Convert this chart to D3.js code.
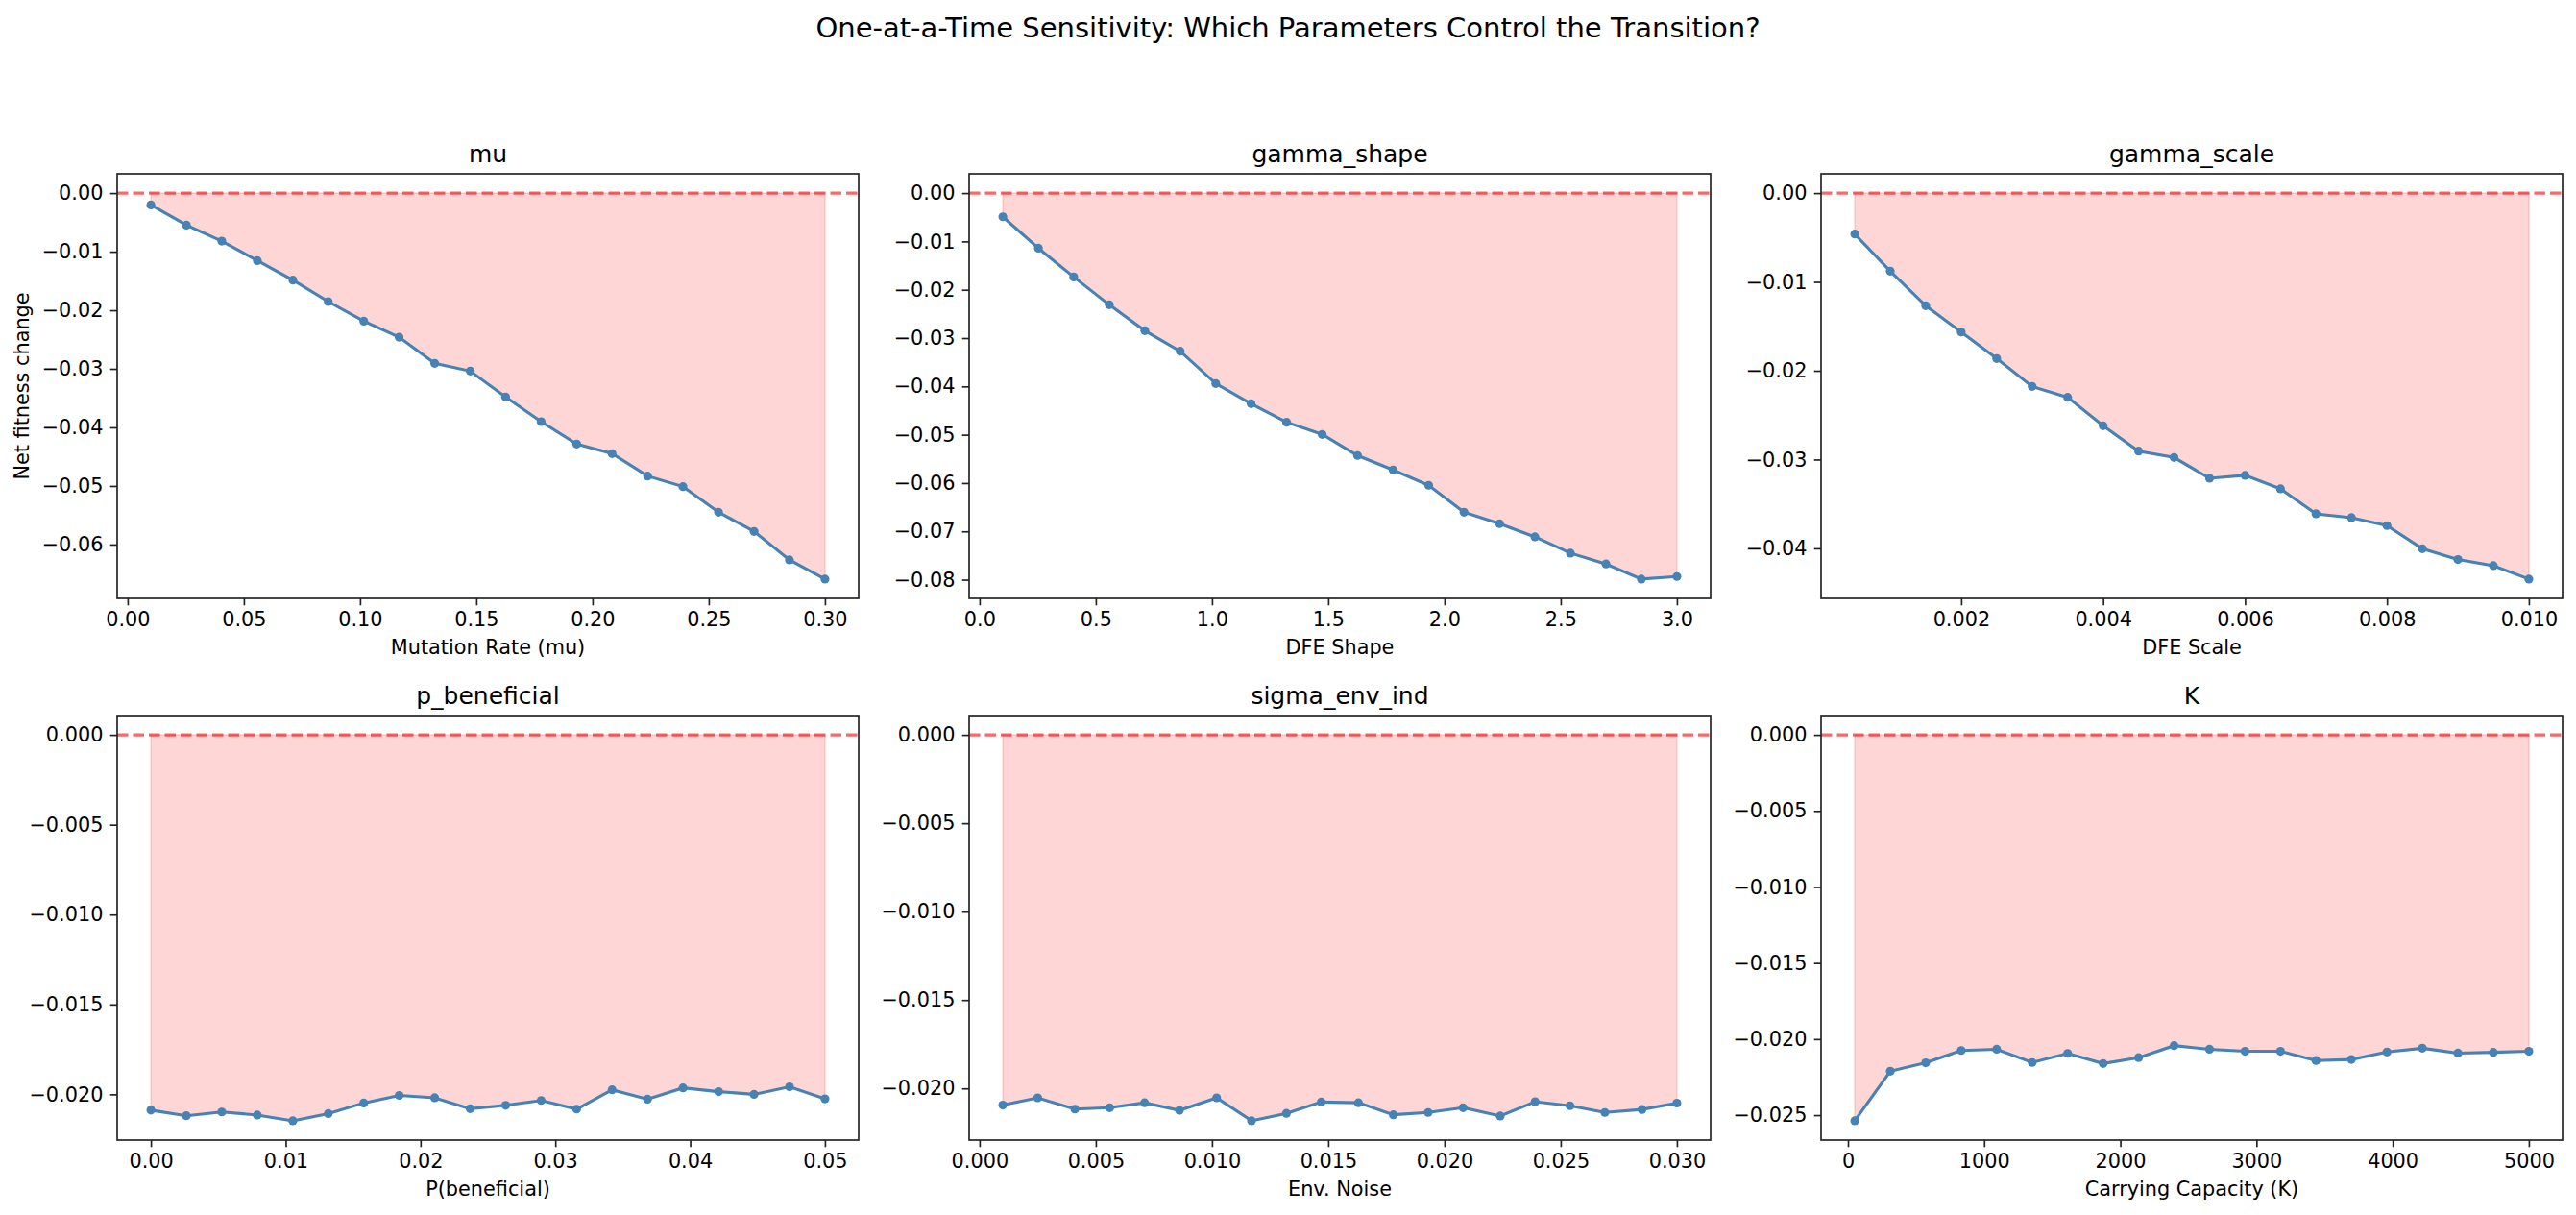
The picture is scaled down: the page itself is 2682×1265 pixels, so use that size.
<!DOCTYPE html>
<html lang="en">
<head>
<meta charset="UTF-8">
<title>One-at-a-Time Sensitivity</title>
<script src="https://cdnjs.cloudflare.com/ajax/libs/d3/7.8.5/d3.min.js"></script>
<style>
  body { margin: 0; background: #fff; }
  svg { display: block; font-family: "DejaVu Sans", sans-serif; }
</style>
</head>
<body>
<div id="chart"></div>
<script>
// ---- data ----
const panelTitles = ['mu', 'gamma_shape', 'gamma_scale', 'p_beneficial', 'sigma_env_ind', 'K'];
const xLabels = ['Mutation Rate (mu)', 'DFE Shape', 'DFE Scale', 'P(beneficial)', 'Env. Noise', 'Carrying Capacity (K)'];

const muX = [0.0100, 0.0253, 0.0405, 0.0558, 0.0711, 0.0863, 0.1016, 0.1168, 0.1321, 0.1474,
             0.1626, 0.1779, 0.1932, 0.2084, 0.2237, 0.2389, 0.2542, 0.2695, 0.2847, 0.3000];
const muY = [-0.00202, -0.00546, -0.0082, -0.01153, -0.01486, -0.01852, -0.02186, -0.02459, -0.02907, -0.03038,
             -0.03481, -0.03902, -0.04284, -0.04448, -0.04831, -0.05011, -0.05448, -0.05776, -0.06262, -0.0659];

const shapeX = [0.100, 0.253, 0.405, 0.558, 0.711, 0.863, 1.016, 1.168, 1.321, 1.474,
                1.626, 1.779, 1.932, 2.084, 2.237, 2.389, 2.542, 2.695, 2.847, 3.000];
const shapeY = [-0.0049, -0.0114, -0.01735, -0.02311, -0.02848, -0.03272, -0.0394, -0.04358, -0.04742, -0.04993,
                -0.0543, -0.05728, -0.06046, -0.06603, -0.06841, -0.07113, -0.0745, -0.07675, -0.07987, -0.07934];

const scaleX = [0.0005, 0.0010, 0.0015, 0.0020, 0.0025, 0.0030, 0.0035, 0.0040, 0.0045, 0.0050,
                0.0055, 0.0060, 0.0065, 0.0070, 0.0075, 0.0080, 0.0085, 0.0090, 0.0095, 0.0100];
const scaleY = [-0.00461, -0.00879, -0.01268, -0.01564, -0.01863, -0.02177, -0.02299, -0.0262, -0.02905, -0.02977,
                -0.03211, -0.03178, -0.0333, -0.03611, -0.03654, -0.03744, -0.04004, -0.04126, -0.04195, -0.04346];

const pbenX = [0.00000, 0.00263, 0.00526, 0.00789, 0.01053, 0.01316, 0.01579, 0.01842, 0.02105, 0.02368,
               0.02632, 0.02895, 0.03158, 0.03421, 0.03684, 0.03947, 0.04211, 0.04474, 0.04737, 0.05000];
const pbenY = [-0.02088, -0.02119, -0.02098, -0.02115, -0.02147, -0.02107, -0.02048, -0.02006, -0.02019, -0.0208,
               -0.02061, -0.02034, -0.02082, -0.01975, -0.02027, -0.01964, -0.01985, -0.02, -0.01958, -0.02025];

const envX = [0.0010, 0.0025, 0.0041, 0.0056, 0.0071, 0.0086, 0.0102, 0.0117, 0.0132, 0.0147,
              0.0163, 0.0178, 0.0193, 0.0208, 0.0224, 0.0239, 0.0254, 0.0269, 0.0285, 0.0300];
const envY = [-0.02094, -0.02053, -0.02117, -0.02109, -0.02081, -0.02124, -0.02053, -0.02183, -0.02141, -0.02077,
              -0.02081, -0.02149, -0.02136, -0.02109, -0.02156, -0.02075, -0.02098, -0.02136, -0.02119, -0.02083];

const kX = [50, 311, 571, 832, 1092, 1353, 1613, 1874, 2134, 2395,
            2655, 2916, 3176, 3437, 3697, 3958, 4218, 4479, 4739, 5000];
const kY = [-0.02537, -0.02211, -0.02156, -0.02075, -0.02067, -0.02154, -0.02094, -0.02161, -0.02122, -0.02043,
            -0.02067, -0.0208, -0.0208, -0.02141, -0.02134, -0.02085, -0.0206, -0.02092, -0.02087, -0.0208];

// tick values
const muXTicks = [0, 0.05, 0.10, 0.15, 0.20, 0.25, 0.30];
const muYTicks = [0, -0.01, -0.02, -0.03, -0.04, -0.05, -0.06];
const shapeXTicks = [0, 0.5, 1.0, 1.5, 2.0, 2.5, 3.0];
const shapeYTicks = [0, -0.01, -0.02, -0.03, -0.04, -0.05, -0.06, -0.07, -0.08];
const scaleXTicks = [0.002, 0.004, 0.006, 0.008, 0.010];
const scaleYTicks = [0, -0.01, -0.02, -0.03, -0.04];
const pbenXTicks = [0, 0.01, 0.02, 0.03, 0.04, 0.05];
const smallYTicks = [0, -0.005, -0.010, -0.015, -0.020];
const envXTicks = [0, 0.005, 0.010, 0.015, 0.020, 0.025, 0.030];
const kXTicks = [0, 1000, 2000, 3000, 4000, 5000];
const kYTicks = [0, -0.005, -0.010, -0.015, -0.020, -0.025];

const panels = [
  { x: muX, y: muY, xt: muXTicks, yt: muYTicks, xf: '.2f', yf: '.2f' },
  { x: shapeX, y: shapeY, xt: shapeXTicks, yt: shapeYTicks, xf: '.1f', yf: '.2f' },
  { x: scaleX, y: scaleY, xt: scaleXTicks, yt: scaleYTicks, xf: '.3f', yf: '.2f' },
  { x: pbenX, y: pbenY, xt: pbenXTicks, yt: smallYTicks, xf: '.2f', yf: '.3f' },
  { x: envX, y: envY, xt: envXTicks, yt: smallYTicks, xf: '.3f', yf: '.3f' },
  { x: kX, y: kY, xt: kXTicks, yt: kYTicks, xf: 'd', yf: '.3f' },
];

// ---- layout ----
const width = 2682, height = 1265;
const colLeft = [122, 1009, 1896];
const rowTop = [181, 745];
const pw = 772, ph = 442;
const tickLen = 7.3, tickPad = 7.3;
const axisColor = '#222';

const svg = d3.select('#chart').append('svg')
  .attr('width', width)
  .attr('height', height);

svg.append('text')
  .attr('x', width / 2)
  .attr('y', 39)
  .attr('text-anchor', 'middle')
  .style('font-size', '29px')
  .text('One-at-a-Time Sensitivity: Which Parameters Control the Transition?');

// 5% margin like matplotlib autoscale
function padded(lo, hi) {
  const m = (hi - lo) * 0.05;
  return [lo - m, hi + m];
}

panels.forEach((p, i) => {
  const left = colLeft[i % 3], top = rowTop[Math.floor(i / 3)];
  const g = svg.append('g').attr('transform', `translate(${left},${top})`);
  const pts = p.x.map((xv, j) => ({ x: xv, y: p.y[j] }));

  const xScale = d3.scaleLinear().domain(padded(d3.min(p.x), d3.max(p.x))).range([0, pw]);
  const yScale = d3.scaleLinear()
    .domain(padded(Math.min(0, d3.min(p.y)), Math.max(0, d3.max(p.y))))
    .range([ph, 0]);

  // shaded area between 0 and the curve
  const area = d3.area().x(d => xScale(d.x)).y0(yScale(0)).y1(d => yScale(d.y));
  g.append('path')
    .datum(pts)
    .attr('d', area)
    .style('fill', 'rgba(255,0,0,0.16)')
    .style('stroke', 'rgba(255,0,0,0.16)')
    .style('stroke-width', 1.5);

  // line + markers
  const line = d3.line().x(d => xScale(d.x)).y(d => yScale(d.y));
  g.append('path')
    .datum(pts)
    .attr('d', line)
    .style('fill', 'none')
    .style('stroke', '#4682b4')
    .style('stroke-width', 3.1);
  g.selectAll('circle')
    .data(pts)
    .enter()
    .append('circle')
    .attr('cx', d => xScale(d.x))
    .attr('cy', d => yScale(d.y))
    .attr('r', 4.6)
    .style('fill', '#4682b4');

  // zero reference line
  g.append('line')
    .attr('x1', 0).attr('x2', pw)
    .attr('y1', yScale(0)).attr('y2', yScale(0))
    .style('stroke', 'rgba(255,0,0,0.6)')
    .style('stroke-width', 3.1)
    .style('stroke-dasharray', '11.5,5');

  // axes
  const xAxis = d3.axisBottom(xScale).tickValues(p.xt).tickFormat(d3.format(p.xf))
    .tickSizeInner(tickLen).tickSizeOuter(0).tickPadding(tickPad);
  const yAxis = d3.axisLeft(yScale).tickValues(p.yt).tickFormat(d3.format(p.yf))
    .tickSizeInner(tickLen).tickSizeOuter(0).tickPadding(tickPad);
  const gx = g.append('g').attr('transform', `translate(0,${ph})`).call(xAxis);
  const gy = g.append('g').call(yAxis);
  [gx, gy].forEach(a => {
    a.select('.domain').remove();
    a.selectAll('line').style('stroke', axisColor).style('stroke-width', 1.67);
    a.selectAll('text').style('font-size', '20.8px').style('fill', '#000')
      .style('font-family', '"DejaVu Sans", sans-serif');
  });

  // frame
  g.append('rect')
    .attr('width', pw).attr('height', ph)
    .style('fill', 'none')
    .style('stroke', axisColor)
    .style('stroke-width', 1.67);

  g.append('text')
    .attr('x', pw / 2).attr('y', -12.5)
    .attr('text-anchor', 'middle')
    .style('font-size', '25px')
    .text(panelTitles[i]);

  g.append('text')
    .attr('x', pw / 2).attr('y', ph + 58)
    .attr('text-anchor', 'middle')
    .style('font-size', '20.8px')
    .text(xLabels[i]);

  if (i === 0) {
    g.append('text')
      .attr('transform', `translate(${23 - left + 7},${ph / 2}) rotate(-90)`)
      .attr('text-anchor', 'middle')
      .style('font-size', '20.8px')
      .text('Net fitness change');
  }
});
</script>
</body>
</html>
